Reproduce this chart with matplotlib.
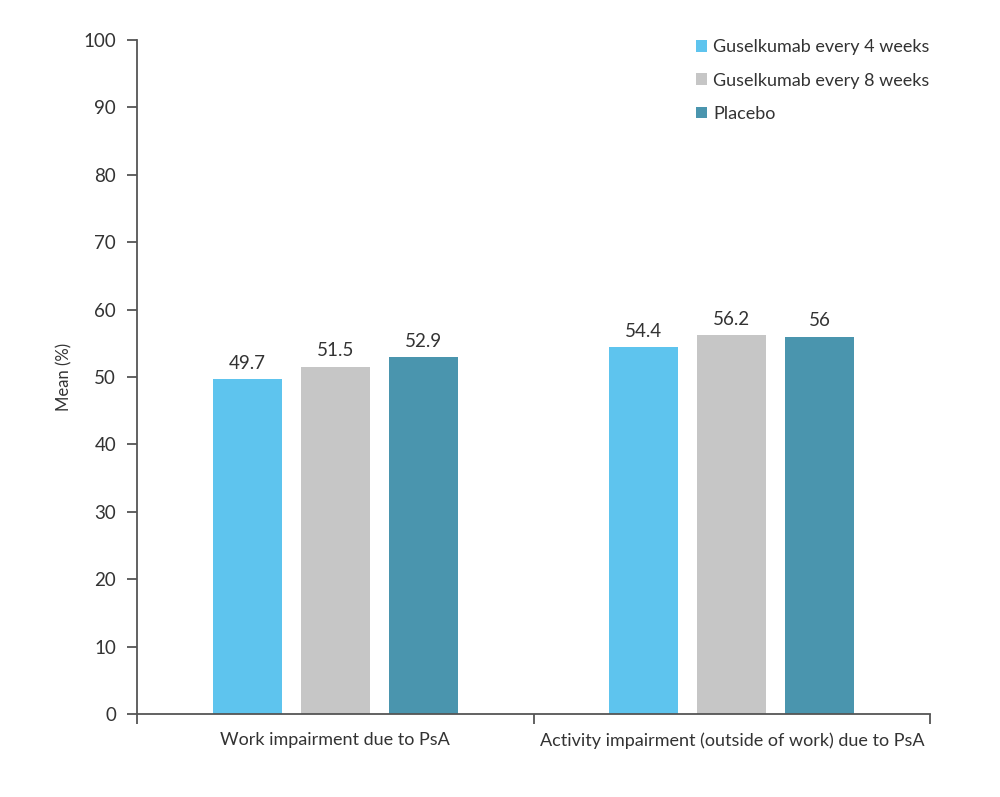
import matplotlib.pyplot as plt
import numpy as np

plt.rcParams['font.family'] = ['Lato', 'DejaVu Sans']

# data
categories = ['Work impairment due to PsA',
              'Activity impairment (outside of work) due to PsA']
series = ['Guselkumab every 4 weeks', 'Guselkumab every 8 weeks', 'Placebo']
q4w = [49.7, 54.4]
q8w = [51.5, 56.2]
placebo = [52.9, 56]
labels = [['49.7', '54.4'], ['51.5', '56.2'], ['52.9', '56']]

colors = ['#5EC4EE', '#C6C6C6', '#4A95AE']
txt = '#333333'
axc = '#555555'

fig = plt.figure(figsize=(10, 7.97), dpi=100)
ax = fig.add_axes([0.137, 0.1041, 0.793, 0.8457])

x = np.arange(len(categories))
w = 0.174
step = 0.222
for i, (vals, c) in enumerate(zip([q4w, q8w, placebo], colors)):
    xs = x + (i - 1) * step
    ax.bar(xs, vals, width=w, color=c, label=series[i], zorder=2)
    for xi, v, lab in zip(xs, vals, labels[i]):
        ax.text(xi, v + 1.1, lab, ha='center', va='bottom', fontsize=13.5, color=txt)

ax.set_xlim(-0.5, 1.5)
ax.set_ylim(0, 100)
ax.set_yticks(range(0, 101, 10))
ax.set_xticks(x)
ax.set_xticklabels(categories, fontsize=13, color=txt)
ax.set_xticks([-0.5, 0.5, 1.5], minor=True)
ax.tick_params(axis='x', which='major', length=0, pad=13)
ax.tick_params(axis='x', which='minor', length=7, width=1.3, color=axc, direction='out')
ax.tick_params(axis='y', length=7, width=1.3, color=axc, labelsize=13.5, labelcolor=txt, pad=8)
ax.set_ylabel('Mean (%)', fontsize=12, color=txt, labelpad=8)

for s in ['top', 'right']:
    ax.spines[s].set_visible(False)
for s in ['left', 'bottom']:
    ax.spines[s].set_color(axc)
    ax.spines[s].set_linewidth(1.3)

leg = ax.legend(loc='upper right', bbox_to_anchor=(1.02, 1.025), frameon=False,
                fontsize=13, handlelength=0.6, handleheight=0.6,
                handletextpad=0.35, labelspacing=0.95, labelcolor=txt)

fig.savefig('out.png', dpi=100)
